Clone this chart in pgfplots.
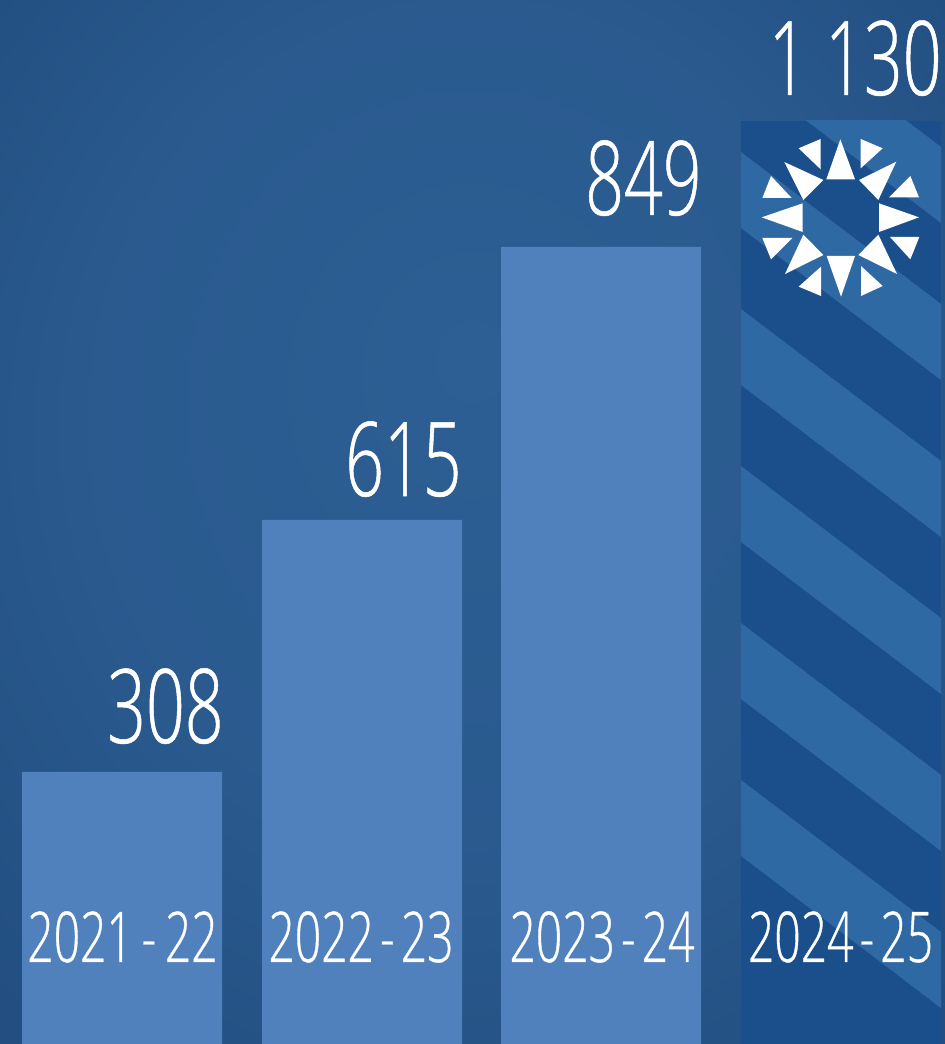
\documentclass[border=0pt]{standalone}
\usepackage{pgfplots}
\pgfplotsset{compat=1.18}
\usepackage{fontspec}
\newfontfamily\cond[FakeStretch=0.66,FakeBold=0.5]{Open Sans Light}
\definecolor{bgin}{HTML}{2D5F94}
\definecolor{bgout}{HTML}{224E81}
\definecolor{barc}{HTML}{5181BC}
\definecolor{bardk}{HTML}{1B4F8B}
\definecolor{stripe}{HTML}{2F69A4}
\pgfdeclareradialshading{bgshade}{\pgfpoint{0bp}{8bp}}{color(0bp)=(bgin);color(20bp)=(bgin!70!bgout);color(36bp)=(bgout);color(50bp)=(bgout)}
\begin{document}
\begin{tikzpicture}
\begin{axis}[
  width=472.5pt,height=522pt,scale only axis,
  xmin=0,xmax=945,ymin=0,ymax=1044,
  axis line style={draw=none},
  tick style={draw=none},
  ytick=\empty,
  xtick=\empty,
  clip=true,
]
% background
\shade[shading=bgshade] (axis cs:0,0) rectangle (axis cs:945,1044);
% bars: heights as drawn (the picture's bars are not proportional to their labels)
\addplot[ybar,bar width=100pt,bar shift=0pt,fill=barc,draw=none] coordinates {(122,272) (362,524) (601,797)};
\addplot[ybar,bar width=100pt,bar shift=0pt,fill=bardk,draw=none] coordinates {(841,923)};
% stripes of the last bar
\begin{scope}
\clip (axis cs:741,0) rectangle (axis cs:941,923);
\fill[stripe] (axis cs:741,1049) -- (axis cs:941,897) -- (axis cs:941,821) -- (axis cs:741,973) -- cycle;
\fill[stripe] (axis cs:741,892) -- (axis cs:941,740) -- (axis cs:941,664) -- (axis cs:741,816) -- cycle;
\fill[stripe] (axis cs:741,735) -- (axis cs:941,583) -- (axis cs:941,507) -- (axis cs:741,659) -- cycle;
\fill[stripe] (axis cs:741,578) -- (axis cs:941,426) -- (axis cs:941,350) -- (axis cs:741,502) -- cycle;
\fill[stripe] (axis cs:741,421) -- (axis cs:941,269) -- (axis cs:941,193) -- (axis cs:741,345) -- cycle;
\fill[stripe] (axis cs:741,264) -- (axis cs:941,112) -- (axis cs:941,36) -- (axis cs:741,188) -- cycle;
\end{scope}
% value labels
\addplot[only marks,mark=none,
  point meta=explicit symbolic,
  nodes near coords,
  every node near coord/.append style={anchor=base east,inner sep=0pt,text=white,font=\cond\fontsize{51.5}{52}\selectfont},
] table[col sep=comma,x=x,y=y,meta=label] {
x,y,label
224,301,308
462,548,615
702,829,849
942,949,1 130
};
% category labels
\addplot[only marks,mark=none,
  point meta=explicit symbolic,
  nodes near coords,
  every node near coord/.append style={anchor=base,inner sep=0pt,text=white,font=\cond\fontsize{35}{36}\selectfont},
] table[col sep=comma,x=x,y=y,meta=label] {
x,y,label
122.5,82,2021\kern4.3pt-\kern4.3pt22
361,82,2022\kern3pt-\kern3pt23
602,82,2023\kern3pt-\kern3pt24
840.5,82,2024\kern3pt-\kern3pt25
};
% emblem
\begin{scope}[shift={(axis cs:735,934)},x=0.16667pt,y=-0.16667pt]
\fill[white] (316,88)--(274,208)--(360,208)--cycle;
\fill[white] (318,560)--(275,438)--(360,438)--cycle;
\fill[white] (80,322)--(203,280)--(203,366)--cycle;
\fill[white] (552,322)--(432,280)--(432,366)--cycle;
\fill[white] (148,156)--(265,210)--(205,270)--cycle;
\fill[white] (484,155)--(372,210)--(430,270)--cycle;
\fill[white] (150,492)--(205,374)--(265,435)--cycle;
\fill[white] (486,492)--(430,374)--(370,435)--cycle;
\fill[white] (257,87)--(191,115)--(257,178)--cycle;
\fill[white] (377,87)--(443,115)--(377,175)--cycle;
\fill[white] (108,198)--(82,264)--(170,264)--cycle;
\fill[white] (526,198)--(552,262)--(462,262)--cycle;
\fill[white] (82,384)--(172,384)--(108,448)--cycle;
\fill[white] (465,381)--(553,381)--(526,448)--cycle;
\fill[white] (258,470)--(191,530)--(258,558)--cycle;
\fill[white] (378,468)--(443,528)--(378,558)--cycle;
\end{scope}
\end{axis}
\end{tikzpicture}
\end{document}
